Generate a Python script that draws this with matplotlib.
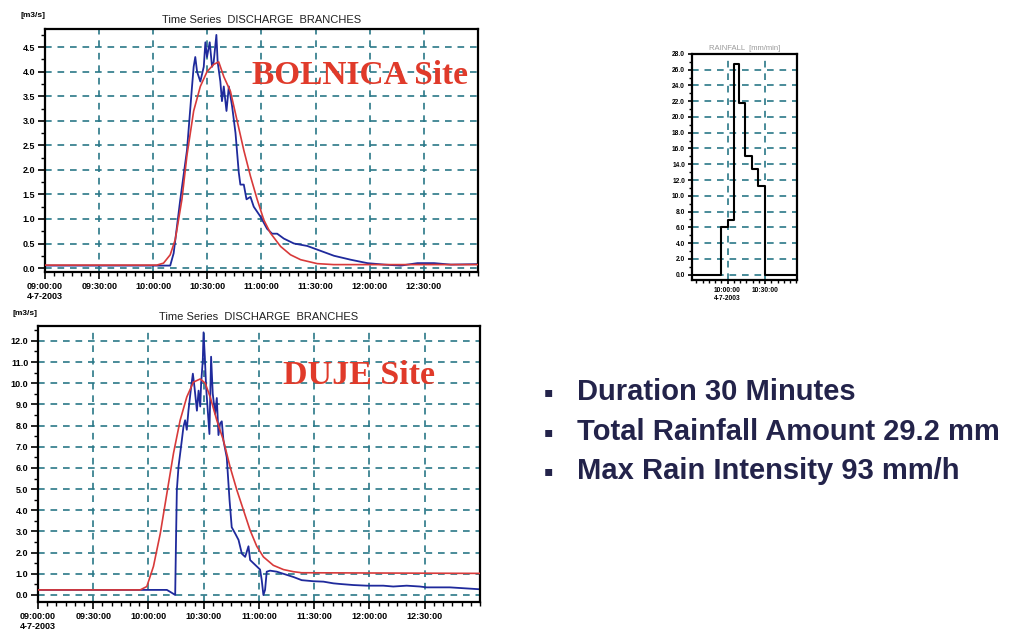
import matplotlib
matplotlib.use("Agg")
import matplotlib.pyplot as plt
from matplotlib.ticker import MultipleLocator, FixedLocator
import numpy as np

# ---------------- data (time in minutes after 09:00, 4-7-2003) ----------------
tick_minutes = [0, 30, 60, 90, 120, 150, 180, 210]
tick_labels = ["09:00:00\n4-7-2003", "09:30:00", "10:00:00", "10:30:00",
               "11:00:00", "11:30:00", "12:00:00", "12:30:00"]

# BOLNICA observed (blue)
bol_obs_t = [0, 69.4, 71.3, 75.0, 78.7, 81.5, 82.4, 83.3, 84.3, 86.1, 88.0, 88.9,
             89.8, 91.3, 92.6, 93.5, 95.0, 95.7, 97.2, 98.1, 99.1, 100.6, 101.9,
             103.7, 105.6, 107.4, 108.3, 110.2, 111.7, 113.9, 115.7, 119.4, 123.1,
             125.9, 128.7, 132.4, 138.0, 145.4, 152.8, 160.2, 169.4, 178.7, 188.0,
             197.2, 206.5, 215.7, 225.0, 239.8]
bol_obs_q = [0.05, 0.05, 0.30, 1.40, 2.40, 3.70, 4.10, 4.30, 4.00, 3.80, 4.10, 4.60,
             4.30, 4.60, 4.10, 4.20, 4.75, 4.20, 3.80, 3.40, 3.70, 3.20, 3.70,
             3.30, 2.75, 1.95, 1.70, 1.70, 1.40, 1.45, 1.25, 1.05, 0.80,
             0.70, 0.70, 0.60, 0.50, 0.45, 0.35, 0.25, 0.17, 0.10, 0.07,
             0.05, 0.10, 0.10, 0.07, 0.08]

# BOLNICA simulated (red)
bol_sim_t = [0, 62.0, 65.7, 69.4, 72.2, 75.9, 78.7, 82.4, 86.1, 89.8, 93.5, 96.3,
             99.1, 102.8, 106.5, 110.2, 113.9, 117.6, 121.3, 125.0, 130.6, 136.1,
             141.7, 150.9, 160.0, 239.8]
bol_sim_q = [0.06, 0.06, 0.10, 0.27, 0.58, 1.40, 2.30, 3.20, 3.70, 4.00, 4.15, 4.20,
             3.90, 3.60, 3.00, 2.40, 1.87, 1.40, 0.98, 0.71, 0.44, 0.27,
             0.17, 0.09, 0.07, 0.07]

# DUJE observed (blue)
duje_obs_t = [0, 70.0, 72.7, 74.5, 74.9, 75.4, 76.3, 78.1, 79.0, 79.9, 80.8, 81.7,
              83.0, 84.1, 85.0, 86.3, 87.2, 88.1, 88.6, 89.5, 89.9, 90.6, 91.3,
              92.2, 93.1, 94.0, 94.9, 96.2, 97.1, 98.0, 98.9, 99.8, 100.7, 102.5,
              104.0, 105.2, 107.1, 108.9, 110.7, 112.5, 114.3, 115.2, 117.0, 118.8,
              120.6, 121.5, 122.4, 123.3, 124.2, 126.0, 129.7, 135.1, 138.7, 143.2,
              149.5, 155.0, 160.4, 164.0, 171.2, 178.5, 187.5, 192.9, 200.2, 207.4,
              211.0, 223.7, 232.7, 240.0]
duje_obs_q = [0.24, 0.24, 0.10, 0.00, 2.30, 4.95, 6.05, 7.30, 7.95, 8.25, 7.80, 8.70,
              9.70, 10.45, 9.80, 8.70, 9.65, 8.90, 10.00, 11.10, 12.40, 11.25, 9.80,
              8.70, 7.60, 11.25, 9.50, 8.55, 9.30, 7.55, 8.10, 8.20, 7.30, 6.50,
              4.50, 3.20, 2.90, 2.60, 1.95, 1.80, 2.30, 1.65, 1.50, 1.35,
              1.20, 0.70, 0.00, 0.24, 1.10, 1.15, 1.10, 0.95, 0.85, 0.70,
              0.65, 0.63, 0.55, 0.52, 0.47, 0.44, 0.44, 0.40, 0.44, 0.40,
              0.36, 0.36, 0.31, 0.27]

# DUJE simulated (red)
duje_sim_t = [0, 55.5, 59.1, 62.7, 66.4, 70.0, 73.6, 77.2, 80.8, 84.4, 88.1, 90.8,
              93.5, 97.1, 100.7, 104.3, 108.0, 111.6, 115.2, 118.8, 122.4, 127.8,
              133.3, 138.7, 143.2, 240.0]
duje_sim_q = [0.24, 0.24, 0.40, 1.35, 2.90, 4.80, 6.70, 8.25, 9.35, 10.05, 10.20, 10.00,
              9.35, 8.25, 7.30, 6.05, 4.95, 4.00, 3.05, 2.30, 1.80, 1.40,
              1.20, 1.10, 1.05, 1.02]

# Rainfall hyetograph (step edges in minutes after 09:00, intensities)
rain_edges = [54.6, 60.5, 65.0, 69.4, 74.0, 79.3, 84.7, 90.0]
rain_values = [6.0, 6.9, 26.7, 21.8, 15.1, 13.4, 11.3]
rain_tick_minutes = [60, 90]
rain_tick_labels = ["10:00:00\n4-7-2003", "10:30:00"]

bullets = ["Duration 30 Minutes", "Total Rainfall Amount 29.2 mm",
           "Max Rain Intensity 93 mm/h"]

# ---------------- styling ----------------
BLUE = "#1f2a9c"
RED = "#d83a3a"
GRID = "#2a7888"
TXT = "#23234a"
TICKFONT = dict(family="Liberation Sans", weight="bold")

fig = plt.figure(figsize=(10.21, 6.35), dpi=100)
fig.patch.set_facecolor("white")


def style_axes(ax, xticks, xlabels, xlim, ylim, ymajor, yminor, xminor,
               fs=6.5, yfmt="{:.1f}"):
    ax.set_xlim(*xlim)
    ax.set_ylim(*ylim)
    ax.xaxis.set_major_locator(FixedLocator(xticks))
    ax.set_xticklabels(xlabels, fontsize=fs, **TICKFONT)
    for lab in ax.get_xticklabels():
        lab.set_multialignment("left")
    ax.xaxis.set_minor_locator(MultipleLocator(xminor))
    ax.yaxis.set_minor_locator(MultipleLocator(yminor))
    yt = [v for v in np.arange(0, ylim[1] + 1e-9, ymajor)]
    ax.set_yticks(yt)
    ax.set_yticklabels([yfmt.format(v) for v in yt], fontsize=fs, **TICKFONT)
    ax.tick_params(which="major", direction="out", length=5, width=1.2, pad=2)
    ax.tick_params(which="minor", direction="out", length=3, width=1.0)
    for s in ax.spines.values():
        s.set_linewidth(1.6)
        s.set_color("black")
    for v in xticks:
        if xlim[0] < v < xlim[1]:
            ax.axvline(v, color=GRID, lw=1.2, ls=(0, (4, 3.5)), zorder=0)
    for v in yt:
        if ylim[0] < v < ylim[1]:
            ax.axhline(v, color=GRID, lw=1.2, ls=(0, (4, 3.5)), zorder=0)


# ---- top: BOLNICA ----
ax1 = fig.add_axes([0.0441, 0.5717, 0.4240, 0.3826])
ax1.plot(bol_sim_t, bol_sim_q, color=RED, lw=1.2, zorder=3)
ax1.plot(bol_obs_t, bol_obs_q, color=BLUE, lw=1.3, zorder=2)
style_axes(ax1, tick_minutes, tick_labels, (0, 240), (-0.08, 4.87), 0.5, 0.25, 5)
ax1.set_title("Time Series  DISCHARGE  BRANCHES", fontsize=8, family="Liberation Sans",
              pad=4, color="#222222")
fig.text(0.020, 0.976, "[m3/s]", fontsize=6, **TICKFONT, va="center")
ax1.text(0.727, 0.807, "BOLNICA Site", transform=ax1.transAxes, ha="center",
         va="center", fontsize=24, family="Liberation Serif", weight="bold",
         color="#e03a2a")

# ---- bottom: DUJE ----
ax2 = fig.add_axes([0.0372, 0.0520, 0.4329, 0.4346])
ax2.plot(duje_sim_t, duje_sim_q, color=RED, lw=1.2, zorder=3)
ax2.plot(duje_obs_t, duje_obs_q, color=BLUE, lw=1.3, zorder=2)
style_axes(ax2, tick_minutes, tick_labels, (0, 240), (-0.33, 12.7), 1.0, 0.5, 5)
ax2.set_title("Time Series  DISCHARGE  BRANCHES", fontsize=8, family="Liberation Sans",
              pad=4, color="#222222")
fig.text(0.012, 0.507, "[m3/s]", fontsize=6, **TICKFONT, va="center")
ax2.text(0.726, 0.822, "DUJE Site", transform=ax2.transAxes, ha="center",
         va="center", fontsize=24.5, family="Liberation Serif", weight="bold",
         color="#e03a2a")

# ---- rainfall ----
ax3 = fig.add_axes([0.6778, 0.559, 0.1028, 0.356])
rx = [rain_edges[0] - 30] + rain_edges + [rain_edges[-1] + 40]
ry = [0.0] + rain_values + [0.0, 0.0]
ax3.step(rx, ry, where="post", color="black", lw=1.5, zorder=3)
style_axes(ax3, rain_tick_minutes, rain_tick_labels, (31.6, 115.5), (-0.7, 28.0),
           2.0, 1.0, 5, fs=4.8)
ax3.tick_params(which="major", length=3)
ax3.tick_params(which="minor", length=2)
ax3.set_title("RAINFALL  [mm/min]", fontsize=5.5, color="#9a9a9a",
              family="Liberation Sans", pad=3)

# ---- bullet text ----
ys = [0.382, 0.319, 0.259]
for y, t in zip(ys, bullets):
    fig.text(0.533, y, "\u25aa", fontsize=10, color=TXT, va="center",
             family="DejaVu Sans")
    fig.text(0.565, y, t, fontsize=21, color=TXT, va="center",
             family="Liberation Sans", weight="bold")

fig.savefig("out.png", dpi=100, facecolor="white")
